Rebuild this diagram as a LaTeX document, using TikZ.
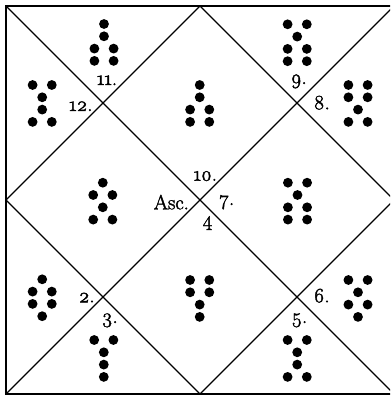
\documentclass[tikz,border=0pt]{standalone}
\usepackage{fontspec}
\newfontfamily\lblfont{Latin Modern Roman}[Numbers=OldStyle, FakeBold=2]
\tikzset{
  frameline/.style={line width=2.6pt},
  chartline/.style={line width=1.3pt},
  pip/.style={fill=black},
  lbl/.style={font=\lblfont\fontsize{20.5}{24}\selectfont, inner sep=0pt, anchor=base},
}
\newcommand\geofig[3]{%
  \foreach \n [count=\i from 0] in {#3} {%
    \ifnum\n=1
      \fill[pip] (#1,#2+\i*12.3) circle[radius=4.9pt];
    \else
      \fill[pip] (#1-9.6,#2+\i*12.3) circle[radius=4.9pt];
      \fill[pip] (#1+9.6,#2+\i*12.3) circle[radius=4.9pt];
    \fi
  }}
\begin{document}
\begin{tikzpicture}[x=1pt,y=-1pt]
\useasboundingbox (0,0) rectangle (390,395);
\clip (0,0) rectangle (390,395);
\coordinate (tl) at (6,6);
\coordinate (tr) at (394,6);
\coordinate (br) at (394,394);
\coordinate (bl) at (6,394);
\coordinate (tm) at (200,6);
\coordinate (rm) at (394,200);
\coordinate (bm) at (200,394);
\coordinate (lm) at (6,200);
\draw[chartline] (tl) -- (br);
\draw[chartline] (tr) -- (bl);
\draw[chartline] (tm) -- (rm) -- (bm) -- (lm) -- cycle;
\draw[frameline] (tl) rectangle (br);
% geomantic figures
\geofig{104}{24}{1,1,2,2}
\geofig{42.2}{85}{2,1,1,2}
\geofig{297.2}{24.3}{2,1,2,2}
\geofig{358}{85}{2,2,1,2}
\geofig{199.7}{85}{1,1,2,2}
\geofig{102.8}{182.7}{1,2,1,2}
\geofig{297.5}{182.7}{2,1,2,2}
\geofig{199.7}{280}{2,2,1,1}
\geofig{42.2}{279.3}{1,2,2,1}
\geofig{103.8}{340}{2,1,1,1}
\geofig{358}{280}{2,1,2,1}
\geofig{297.2}{340}{2,1,1,2}
% labels
\node[lbl] (l11) at (107,85) {11.};
\node[lbl] (l12) at (80.8,111) {12.};
\node[lbl] (l9) at (298.8,84) {9.};
\node[lbl] (l8) at (321.7,109.3) {8.};
\node[lbl] (l10) at (205.3,180.7) {10.};
\node[lbl] (asc) at (171.3,209.3) {Asc.};
\node[lbl] (l7) at (226.7,205) {7.};
\node[lbl] (l4) at (207.5,226) {4};
\node[lbl] (l2) at (86.7,302.3) {2.};
\node[lbl] (l3) at (109.7,323) {3.};
\node[lbl] (l6) at (321.7,302.3) {6.};
\node[lbl] (l5) at (299.3,323) {5.};
\end{tikzpicture}
\end{document}
